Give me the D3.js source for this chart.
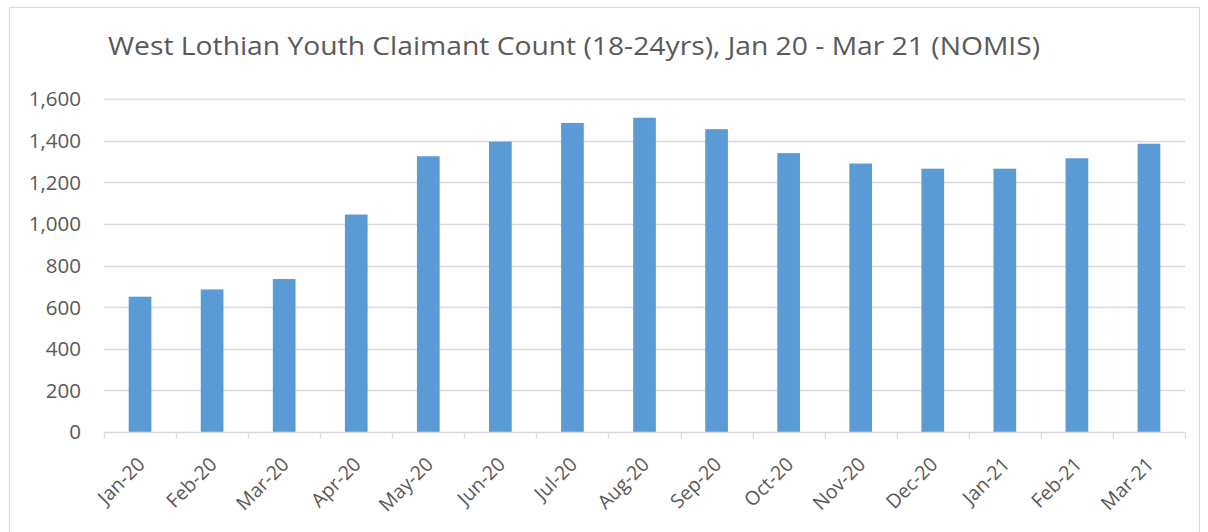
<!DOCTYPE html>
<html>
<head>
<meta charset="utf-8">
<script src="https://cdn.jsdelivr.net/npm/d3@7"></script>
<style>
  body { margin: 0; background: #fff; }
  svg { display: block; }
</style>
</head>
<body>
<svg id="chart"></svg>
<script>
// datos
const meses = ["Jan-20", "Feb-20", "Mar-20", "Apr-20", "May-20", "Jun-20", "Jul-20", "Aug-20",
  "Sep-20", "Oct-20", "Nov-20", "Dec-20", "Jan-21", "Feb-21", "Mar-21"];
const claimantes = [650, 685, 735, 1045, 1325, 1395, 1485, 1510, 1455, 1340, 1290, 1265, 1265, 1315, 1385];
const ticksY = [0, 200, 400, 600, 800, 1000, 1200, 1400, 1600];
const titulo = "West Lothian Youth Claimant Count (18-24yrs), Jan 20 - Mar 21 (NOMIS)";

const ancho = 1208, alto = 532;
const margen = { top: 99, right: 23, bottom: 100, left: 104 };
const fuente = "'Open Sans', sans-serif";
const gris = "#595959";

const svg = d3.select("#chart")
  .attr("width", ancho)
  .attr("height", alto)
  .style("font-family", fuente);

// borde del area del grafico
svg.append("rect")
  .attr("x", 9.5).attr("y", 7.5)
  .attr("width", 1190).attr("height", 540)
  .attr("fill", "#fff")
  .attr("stroke", "#d9d9d9");

svg.append("text")
  .attr("x", 108).attr("y", 55)
  .attr("font-size", 25)
  .attr("fill", gris)
  .attr("textLength", 932)
  .attr("lengthAdjust", "spacingAndGlyphs")
  .text(titulo);

const x = d3.scaleBand()
  .domain(meses)
  .range([margen.left, ancho - margen.right])
  .paddingInner(0.685)
  .paddingOuter(0.3425);

const y = d3.scaleLinear()
  .domain([0, 1600])
  .range([alto - margen.bottom, margen.top]);

// lineas de cuadricula
svg.append("g")
  .selectAll("line")
  .data(ticksY.filter(d => d > 0))
  .join("line")
  .attr("x1", margen.left)
  .attr("x2", ancho - margen.right)
  .attr("y1", d => Math.round(y(d)) + 0.5)
  .attr("y2", d => Math.round(y(d)) + 0.5)
  .attr("stroke", "#d9d9d9")
  .attr("stroke-width", 1.3);

// etiquetas eje y
svg.append("g")
  .selectAll("text")
  .data(ticksY)
  .join("text")
  .attr("x", 81)
  .attr("y", d => y(d))
  .attr("dy", "0.36em")
  .attr("text-anchor", "end")
  .attr("font-size", 20.5)
  .attr("fill", gris)
  .text(d3.format(","));

// barras
svg.append("g")
  .selectAll("rect")
  .data(claimantes)
  .join("rect")
  .attr("x", (d, i) => x(meses[i]))
  .attr("y", d => y(d))
  .attr("width", x.bandwidth())
  .attr("height", d => y(0) - y(d))
  .attr("fill", "#5b9bd5");

// eje x con marcas entre categorias
const paso = x.step();
const x0 = margen.left;
const ejeY = Math.round(y(0)) + 0.5;
svg.append("line")
  .attr("x1", x0).attr("x2", ancho - margen.right)
  .attr("y1", ejeY).attr("y2", ejeY)
  .attr("stroke", "#d9d9d9")
  .attr("stroke-width", 1.3);

svg.append("g")
  .selectAll("line")
  .data(d3.range(meses.length + 1))
  .join("line")
  .attr("x1", i => Math.round(x0 + i * paso) + 0.5)
  .attr("x2", i => Math.round(x0 + i * paso) + 0.5)
  .attr("y1", ejeY)
  .attr("y2", ejeY + 6)
  .attr("stroke", "#d9d9d9")
  .attr("stroke-width", 1.3);

svg.append("g")
  .selectAll("text")
  .data(meses)
  .join("text")
  .attr("transform", d => `translate(${x(d) + x.bandwidth() / 2 + 6},${ejeY + 33}) rotate(-45)`)
  .attr("text-anchor", "end")
  .attr("font-size", 19.5)
  .attr("fill", gris)
  .text(d => d);
</script>
</body>
</html>
